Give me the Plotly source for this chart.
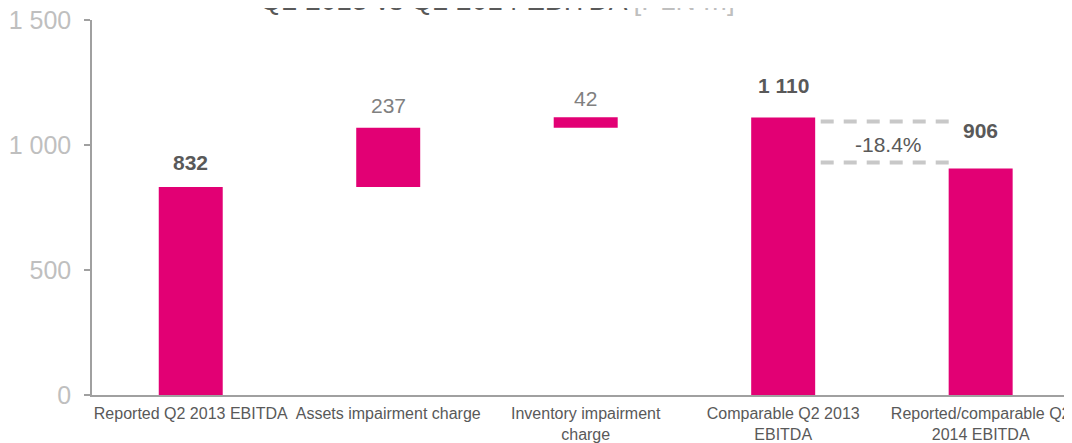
import plotly.graph_objects as go

categories = ["Reported Q2 2013 EBITDA", "Assets impairment charge",
              "Inventory impairment<br>charge", "Comparable Q2 2013<br>EBITDA",
              "Reported/comparable Q2<br>2014 EBITDA"]
values = [832, 237, 42, 1110, 906]
kinds = ["total", "delta", "delta", "total", "total"]
y_ticks = [0, 500, 1000, 1500]
y_tick_labels = ["0", "500", "1 000", "1 500"]
title_main = "Q2 2013 vs Q2 2014 EBITDA"
title_unit = "[PLN m]"

MAGENTA = "#e20074"
DARK = "#595959"
GREY = "#808080"

# compute waterfall bases
bases, heights = [], []
running = 0
for v, k in zip(values, kinds):
    if k == "total":
        bases.append(0)
        heights.append(v)
        running = v
    else:
        bases.append(running)
        heights.append(v)
        running += v

xs = list(range(len(categories)))

fig = go.Figure()
fig.add_trace(go.Bar(x=xs, y=heights, base=bases, marker_color=MAGENTA,
                     marker_line_width=0, width=0.324, hoverinfo="skip"))

def fmt(v):
    return f"{v:,}".replace(",", " ")

label_shift = [25, 22, 19, 32, 38]
for i, (v, k) in enumerate(zip(values, kinds)):
    top = bases[i] + heights[i]
    bold = k == "total"
    fig.add_annotation(x=xs[i], y=top, yanchor="middle", yshift=label_shift[i],
                       text=f"<b>{fmt(v)}</b>" if bold else fmt(v), showarrow=False,
                       font=dict(size=21, color=DARK if bold else GREY))

# bridge dashed lines between comparable bars
for val, off in [(values[3], -4), (values[4], 6)]:
    fig.add_shape(type="line", xref="x", yref="y", x0=3.19, x1=3.84,
                  ysizemode="pixel", yanchor=val, y0=off, y1=off,
                  line=dict(color="#c8c8c8", width=4, dash="13px,10px"))
change = (values[4] / values[3] - 1) * 100
fig.add_annotation(x=3.535, y=(values[3] + values[4]) / 2, text=f"{change:.1f}%",
                   showarrow=False, font=dict(size=21, color=DARK), yshift=-1)

# title (partly cut off at the top, as in the source)
fig.add_annotation(xref="paper", yref="paper", x=0.41, y=1, yanchor="bottom", yshift=2,
                   text=f"{title_main} <span style='color:#bfbfbf'>{title_unit}</span>",
                   showarrow=False, font=dict(size=28, color=DARK))

fig.update_layout(
    width=1072, height=443,
    margin=dict(l=84, r=0, t=12, b=56),
    paper_bgcolor="white", plot_bgcolor="white",
    showlegend=False,
    font=dict(family="Arial, Liberation Sans, sans-serif"),
    xaxis=dict(range=[-0.5, 4.503], tickmode="array", tickvals=xs, ticktext=categories,
               showline=True, linecolor="#a0a0a0", linewidth=1.5, showgrid=False,
               zeroline=False, ticks="", tickfont=dict(size=16, color=DARK),
               ticklabelstandoff=3, automargin=False, fixedrange=True),
    yaxis=dict(range=[0, 1500], tickmode="array", tickvals=y_ticks, ticktext=y_tick_labels,
               showline=True, linecolor="#a0a0a0", linewidth=1.5, showgrid=False,
               zeroline=False, ticks="outside", ticklen=6, tickcolor="#a0a0a0",
               tickwidth=1.5, tickfont=dict(size=25, color="#bfbfbf"),
               ticklabelstandoff=8, ticklabeloverflow="allow",
               automargin=False, fixedrange=True),
)

fig.write_html("out.html")
